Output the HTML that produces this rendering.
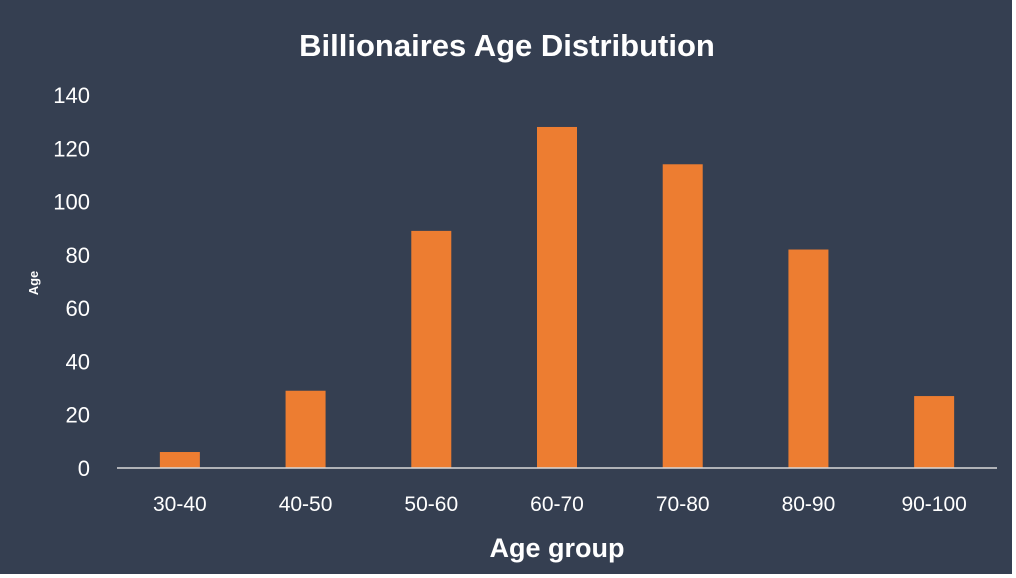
<!DOCTYPE html>
<html><head><meta charset="utf-8"><style>
body{margin:0;background:#fff}
svg{display:block;font-family:"Liberation Sans",sans-serif}
</style></head><body>
<svg width="1016" height="578">
<rect x="0" y="0" width="1012" height="574" fill="#353f51"/>
<text x="507" y="56" text-anchor="middle" fill="#fff" font-size="31" font-weight="bold">Billionaires Age Distribution</text>
<text transform="translate(38,283) rotate(-90)" text-anchor="middle" fill="#fff" font-size="13" font-weight="bold">Age</text>
<text x="557" y="557" text-anchor="middle" fill="#fff" font-size="27" font-weight="bold">Age group</text>
<g id="ticks"></g><g id="bars"></g><g id="xlabels"></g>
<line x1="117" y1="468" x2="997" y2="468" stroke="#d9d9d9" stroke-width="1.5"/>
</svg>
<script>
const categories=["30-40","40-50","50-60","60-70","70-80","80-90","90-100"];
const values=[6,29,89,128,114,82,27];
const yTicks=[0,20,40,60,80,100,120,140];
const ns="http://www.w3.org/2000/svg";
const x0=117,x1=997,band=(x1-x0)/categories.length;
const y=v=>468-v*(373/140);
const ticks=document.getElementById('ticks'),bars=document.getElementById('bars'),xl=document.getElementById('xlabels');
yTicks.forEach(t=>{const e=document.createElementNS(ns,'text');


e.setAttribute('x',90);e.setAttribute('y',y(t)+8);e.setAttribute('text-anchor','end');e.setAttribute('fill','#fff');e.setAttribute('font-size','22');e.textContent=t;ticks.appendChild(e);});
categories.forEach((c,i)=>{const cx=x0+band*(i+0.5);
const r=document.createElementNS(ns,'rect');


r.setAttribute('x',cx-20);r.setAttribute('width',40);r.setAttribute('y',y(values[i]));r.setAttribute('height',468-y(values[i]));r.setAttribute('fill','#ed7d31');bars.appendChild(r);
const t=document.createElementNS(ns,'text');


t.setAttribute('x',cx);t.setAttribute('y',511);t.setAttribute('text-anchor','middle');t.setAttribute('fill','#fff');t.setAttribute('font-size','21');t.textContent=c;xl.appendChild(t);});
</script>
</body></html>
